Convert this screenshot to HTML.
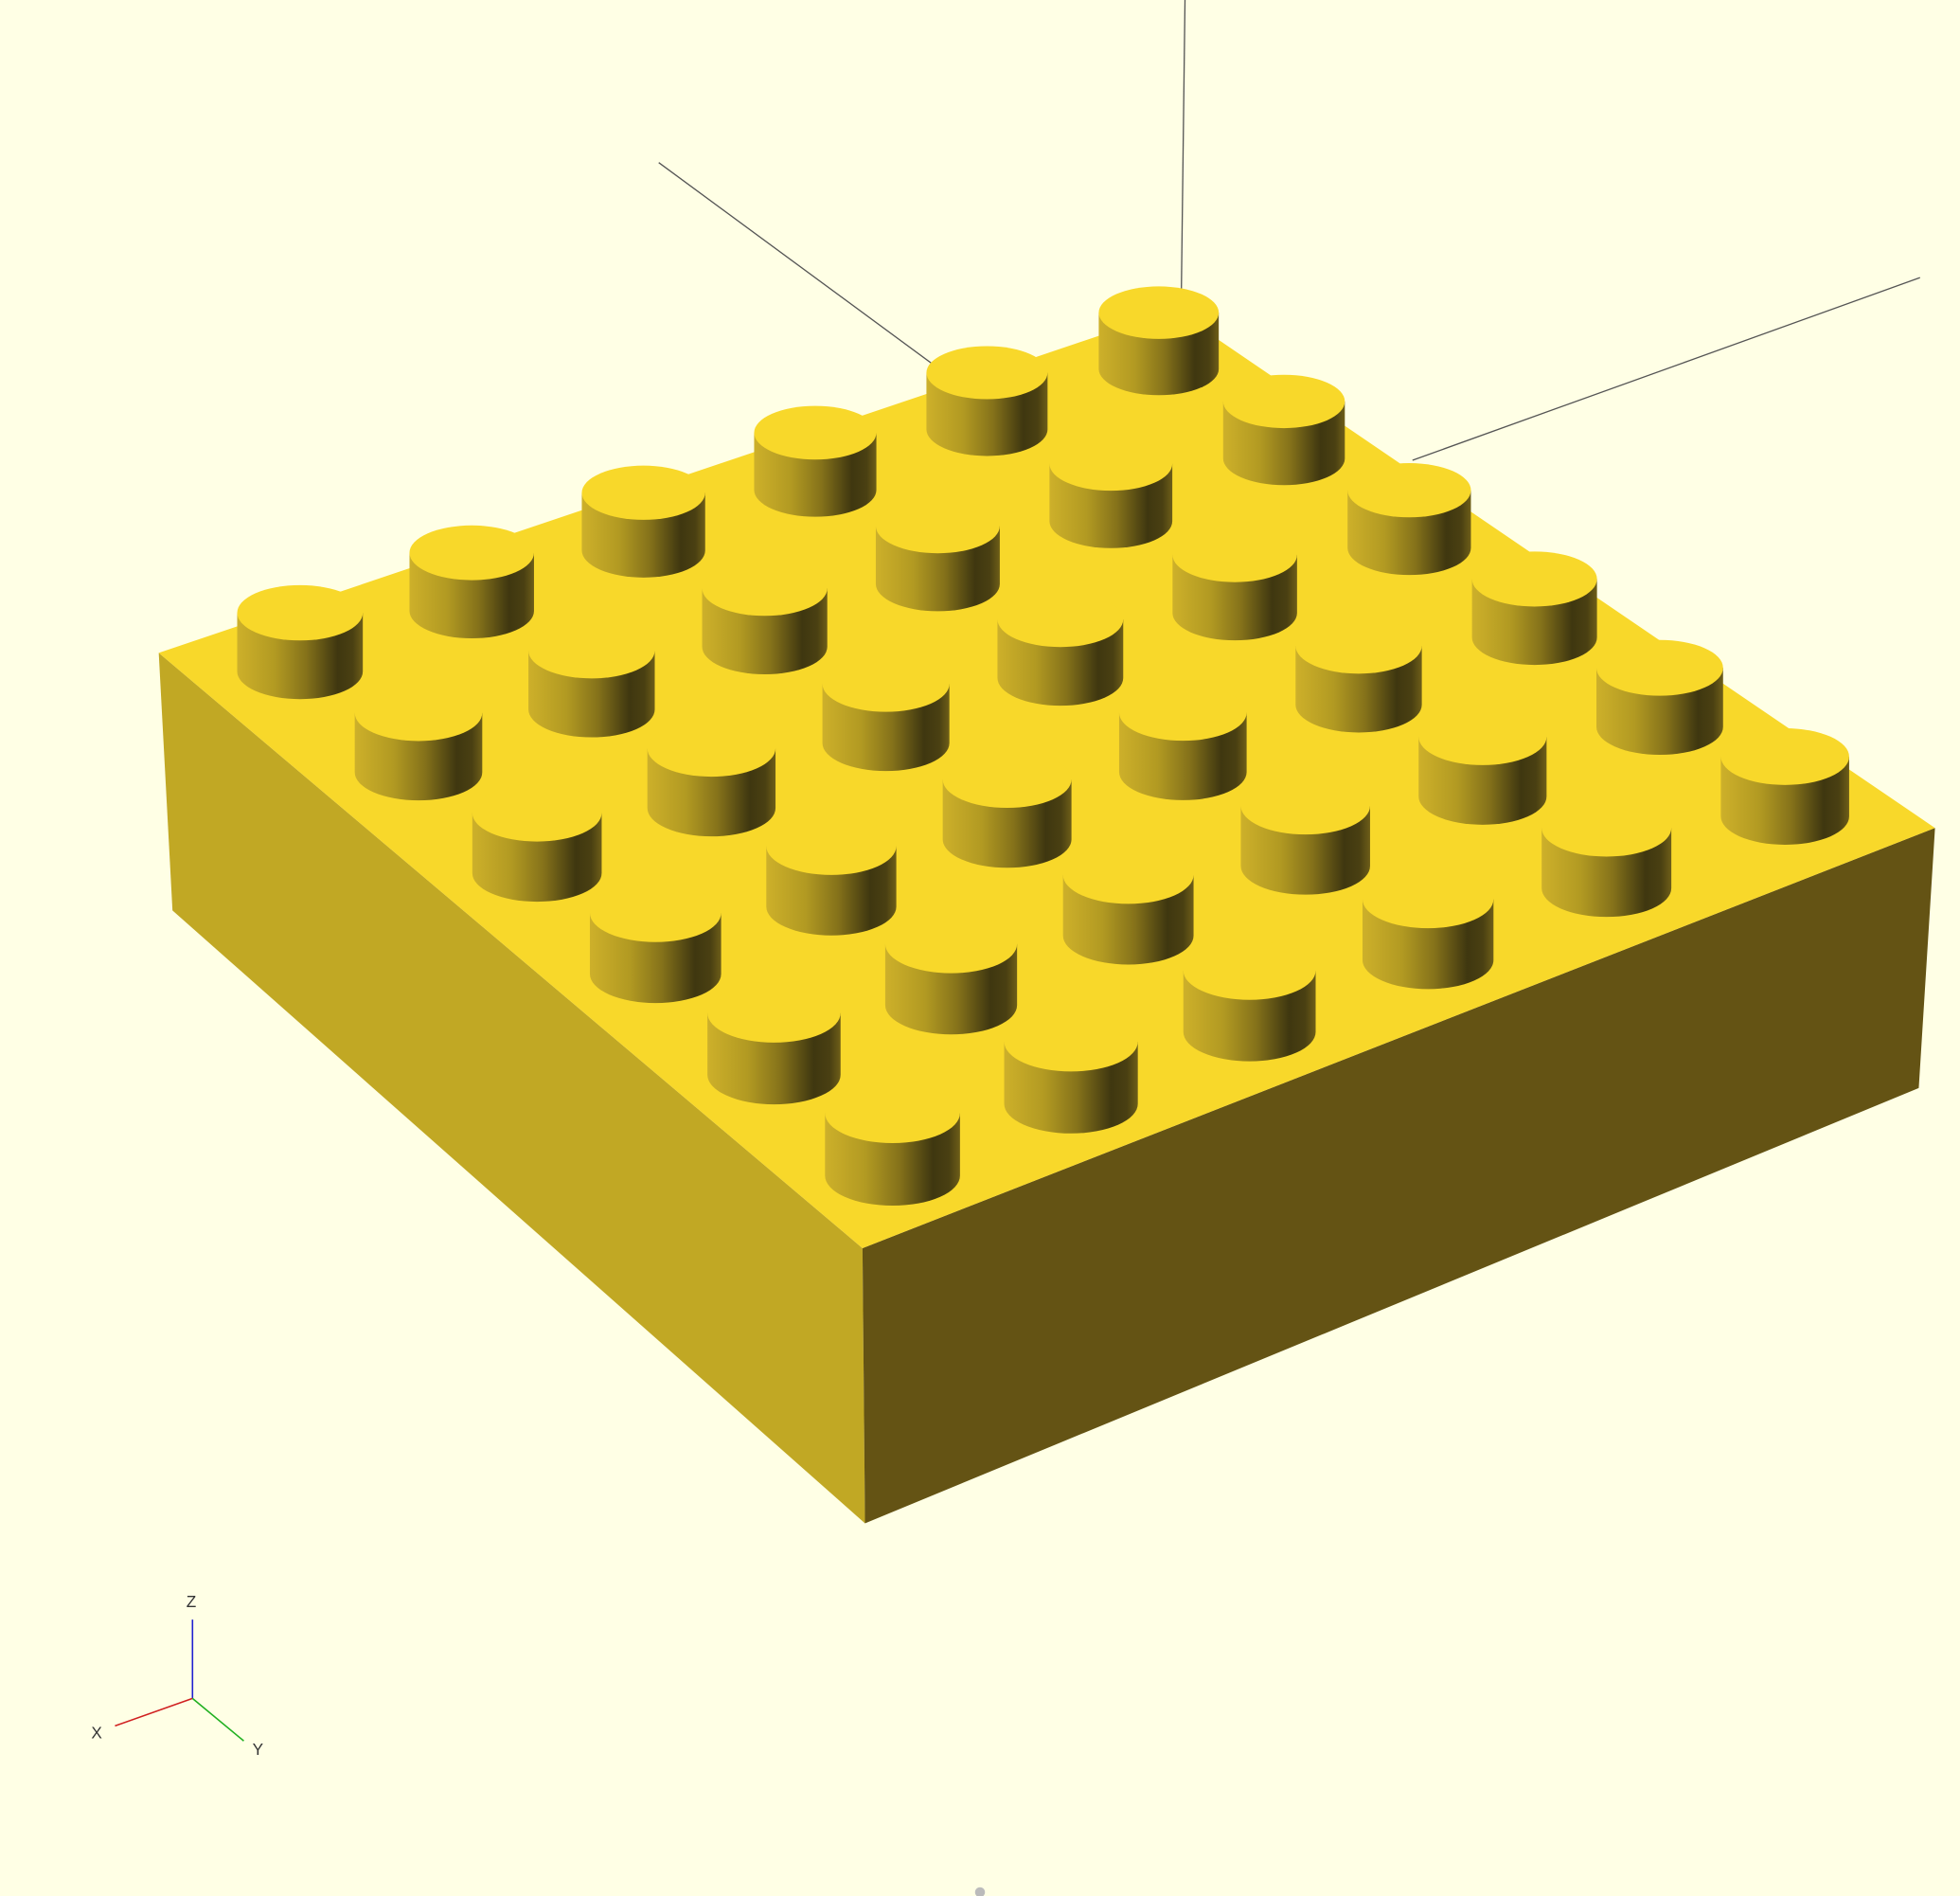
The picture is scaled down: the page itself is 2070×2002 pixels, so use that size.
<!DOCTYPE html>
<html><head><meta charset="utf-8">
<style>
html,body{margin:0;padding:0;background:#ffffe5;}
svg{display:block;}
text{font-family:"Liberation Sans",sans-serif;}
</style></head>
<body>
<svg id="scene" width="2070" height="2002" viewBox="0 0 1568 1516" preserveAspectRatio="none" xmlns="http://www.w3.org/2000/svg">
<defs>
<linearGradient id="cyl" x1="0" x2="1" y1="0" y2="0">
<stop offset="0" stop-color="#cdb02a"/>
<stop offset="0.3" stop-color="#b29a22"/>
<stop offset="0.55" stop-color="#85721a"/>
<stop offset="0.8" stop-color="#3f3710"/>
<stop offset="0.92" stop-color="#4a4012"/>
<stop offset="1" stop-color="#6e5e18"/>
</linearGradient>
</defs>
<rect x="0" y="0" width="1568" height="1516" fill="#ffffe5"/>
<g stroke="#555" stroke-width="1" fill="none">
<line x1="948" y1="0" x2="945" y2="240"/>
<line x1="527" y1="130" x2="750" y2="294"/>
<line x1="1536" y1="222" x2="1130" y2="368"/>
</g>
<g>
<polygon points="127,522 690,998 692,1218 138,728" fill="#c1a824"/>
<polygon points="690,998 1548,662 1535,870 692,1218" fill="#645314"/>
<polygon points="127,522 940,248 1548,662 690,998" fill="#f8d82a"/>
<g id="studs"></g>
</g>
<g stroke-width="1.2">
<line x1="154" y1="1358" x2="154" y2="1295" stroke="#2020d0"/>
<line x1="154" y1="1358" x2="92" y2="1380" stroke="#d02020"/>
<line x1="154" y1="1358" x2="195" y2="1392" stroke="#20b020"/>
<text x="149" y="1285" font-size="13" fill="#333">Z</text>
<text x="73" y="1390" font-size="13" fill="#333">X</text>
<text x="202" y="1403" font-size="13" fill="#333">Y</text>
</g>
<circle cx="784" cy="1513" r="4" fill="#bbb"/>
</svg>
<script>
var rows = [0,1,2,3,4,5];
var cols = [0,1,2,3,4,5];
var studHeight = [45];
// corner stud top centers (display coordinates)
var P00=[240,490], P50=[927,250], P05=[714,890], P55=[1428,605];
function pos(i,j){
  var a=i/5,b=j/5;
  return [
    (1-a)*(1-b)*P00[0]+a*(1-b)*P50[0]+(1-a)*b*P05[0]+a*b*P55[0],
    (1-a)*(1-b)*P00[1]+a*(1-b)*P50[1]+(1-a)*b*P05[1]+a*b*P55[1]
  ];
}
var g=document.getElementById('studs');
var NS='http://www.w3.org/2000/svg';
var list=[];
rows.forEach(function(i){cols.forEach(function(j){list.push([i,j]);});});
list.sort(function(p,q){return pos(p[0],p[1])[1]-pos(q[0],q[1])[1];});
list.forEach(function(p){
  var c=pos(p[0],p[1]);
  var t=(c[1]-250)/640;
  var rx=48+6*t, ry=21+3*t, h=studHeight[0]+5*t;
  var grp=document.createElementNS(NS,'g');
  
  
  var body=document.createElementNS(NS,'path');
  body.setAttribute('d','M'+(c[0]-rx)+','+c[1]+' L'+(c[0]-rx)+','+(c[1]+h)+' A'+rx+','+ry+' 0 0 0 '+(c[0]+rx)+','+(c[1]+h)+' L'+(c[0]+rx)+','+c[1]+' Z');
  body.setAttribute('fill','url(#cyl)');
  
  
  grp.appendChild(body);
  var top=document.createElementNS(NS,'ellipse');
  top.setAttribute('cx',c[0]);top.setAttribute('cy',c[1]);
  top.setAttribute('rx',rx);top.setAttribute('ry',ry);
  top.setAttribute('fill','#f8d82a');
  
  
  grp.appendChild(top);
  g.appendChild(grp);
});
</script>
</body></html>
